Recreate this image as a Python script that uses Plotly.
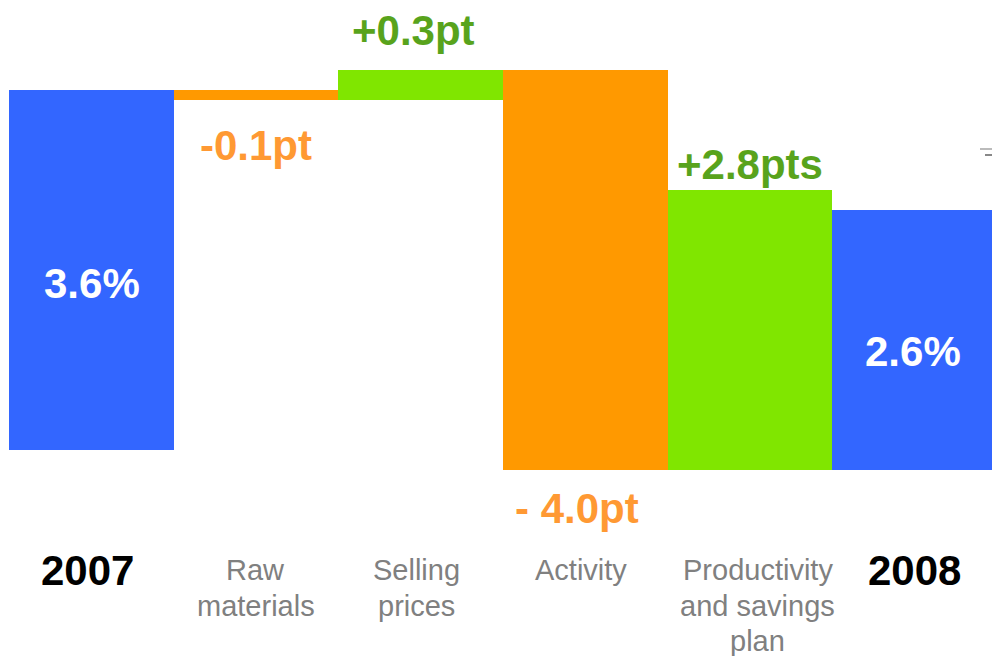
import plotly.graph_objects as go

# Operating margin bridge, 2007 -> 2008
categories = ["2007", "Raw materials", "Selling prices", "Activity",
              "Productivity and savings plan", "2008"]
axis_labels = [["2007"], ["Raw", "materials"], ["Selling", "prices"], ["Activity"],
               ["Productivity", "and savings", "plan"], ["2008"]]
changes = [3.6, -0.1, 0.3, -4.0, 2.8, 2.6]
kinds = ["total", "delta", "delta", "delta", "delta", "total"]
value_labels = ["3.6%", "-0.1pt", "+0.3pt", "- 4.0pt", "+2.8pts", "2.6%"]

BLUE = "#3366FF"
ORANGE = "#FF9900"
GREEN = "#80E600"
ORANGE_TXT = "#FF9933"
GREEN_TXT = "#58A31C"
GREY_TXT = "#808080"
FONT = "Liberation Sans, Arial, sans-serif"

W, H = 992, 656
ZERO_PX = 470          # pixel row of the value 0
PX_PER_PT = 100.0      # pixels per percentage point
OPENING_BASE = 0.2     # the 2007 bar stands slightly above the baseline

# label placement tweaks (pixels)
value_label_rows = [283, 146, 31, 508, 164, 351]
value_label_dx = [1, 0, -7, -8, 0, -2]
axis_label_dx = [-4, 0, -4, -4, 8, 0]
AXIS_ROW0, AXIS_LINE = 570, 35.5

# bar bases: totals stand on their own base, deltas hang from the running level
bases, colors = [], []
level = 0.0
for i, (v, k) in enumerate(zip(changes, kinds)):
    if k == "total":
        b = OPENING_BASE if i == 0 else 0.0
        colors.append(BLUE)
    else:
        b = level
        colors.append(GREEN if v > 0 else ORANGE)
    bases.append(b)
    level = b + v

y_top = ZERO_PX / PX_PER_PT
y_bot = -(H - ZERO_PX) / PX_PER_PT

fig = go.Figure(go.Bar(
    x=list(range(len(categories))),
    y=changes,
    base=bases,
    marker=dict(color=colors, line=dict(width=0)),
    width=1.0,
    hoverinfo="skip",
))


def paper_y(px):
    return 1 - px / H


def ann(x, px, text, size, color, bold=True, dx=0):
    fig.add_annotation(
        x=x, xref="x", y=paper_y(px), yref="paper",
        text=f"<b>{text}</b>" if bold else text,
        showarrow=False, xanchor="center", yanchor="middle", xshift=dx,
        font=dict(family=FONT, size=size, color=color),
    )


# value labels
for i, (txt, py) in enumerate(zip(value_labels, value_label_rows)):
    if kinds[i] == "total":
        col = "white"
    else:
        col = GREEN_TXT if changes[i] > 0 else ORANGE_TXT
    ann(i, py, txt, 42, col, dx=value_label_dx[i])

# category labels under the bars
for i, lines in enumerate(axis_labels):
    for j, line in enumerate(lines):
        row = AXIS_ROW0 + j * AXIS_LINE
        if kinds[i] == "total":
            ann(i, row, line, 42, "black", dx=axis_label_dx[i])
        else:
            ann(i, row, line, 29, GREY_TXT, bold=False, dx=axis_label_dx[i])

# clipped fragment at the right edge
fig.add_shape(type="line", xref="paper", yref="paper",
              x0=1 - 12 / (W - 9), x1=1, y0=paper_y(149), y1=paper_y(149),
              line=dict(color="#BBBBBB", width=2))
fig.add_shape(type="line", xref="paper", yref="paper",
              x0=1 - 7 / (W - 9), x1=1, y0=paper_y(155), y1=paper_y(155),
              line=dict(color="#888888", width=2))

fig.update_layout(
    width=W, height=H,
    margin=dict(l=9, r=0, t=0, b=0),
    paper_bgcolor="white", plot_bgcolor="white",
    showlegend=False, bargap=0,
    xaxis=dict(range=[-0.5, 5.47], visible=False),
    yaxis=dict(range=[y_bot, y_top], visible=False),
)

fig.write_html("out.html")
